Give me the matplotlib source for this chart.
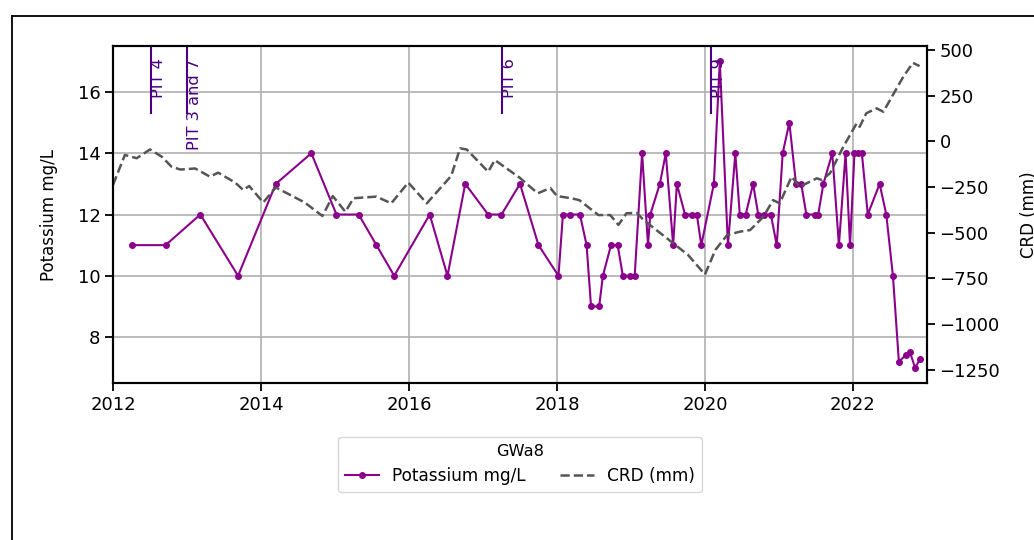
import matplotlib
matplotlib.use("Agg")
import matplotlib.pyplot as plt
from matplotlib.lines import Line2D

# Potassium (mg/L) sample dates (decimal year) and values
k_dates = [2012.25, 2012.71, 2013.18, 2013.69, 2014.20, 2014.68, 2015.02, 2015.32,
           2015.56, 2015.80, 2016.28, 2016.52, 2016.76, 2017.07, 2017.25, 2017.50,
           2017.75, 2018.02, 2018.08, 2018.17, 2018.31, 2018.40, 2018.46, 2018.57,
           2018.62, 2018.73, 2018.82, 2018.89, 2018.98, 2019.05, 2019.15, 2019.23,
           2019.26, 2019.39, 2019.47, 2019.57, 2019.62, 2019.73, 2019.82, 2019.89,
           2019.95, 2020.12, 2020.20, 2020.31, 2020.41, 2020.47, 2020.55, 2020.65,
           2020.72, 2020.80, 2020.89, 2020.97, 2021.05, 2021.14, 2021.23, 2021.30,
           2021.37, 2021.48, 2021.53, 2021.60, 2021.72, 2021.81, 2021.90, 2021.96,
           2022.02, 2022.07, 2022.12, 2022.20, 2022.36, 2022.45, 2022.54, 2022.62,
           2022.71, 2022.77, 2022.84, 2022.91]
k_values = [11, 11, 12, 10, 13, 14, 12, 12,
            11, 10, 12, 10, 13, 12, 12, 13,
            11, 10, 12, 12, 12, 11, 9, 9,
            10, 11, 11, 10, 10, 10, 14, 11,
            12, 13, 14, 11, 13, 12, 12, 12,
            11, 13, 17, 11, 14, 12, 12, 13,
            12, 12, 12, 11, 14, 15, 13, 13,
            12, 12, 12, 13, 14, 11, 14, 11,
            14, 14, 14, 12, 13, 12, 10, 7.2,
            7.4, 7.5, 7.0, 7.3]

# Cumulative rainfall deviation (mm)
crd_dates = [2012.00, 2012.16, 2012.32, 2012.50, 2012.66, 2012.79, 2012.91, 2013.11,
             2013.31, 2013.42, 2013.65, 2013.76, 2013.84, 2014.03, 2014.20, 2014.59,
             2014.83, 2014.97, 2015.14, 2015.25, 2015.56, 2015.76, 2015.99, 2016.24,
             2016.57, 2016.69, 2016.78, 2017.07, 2017.16, 2017.49, 2017.74, 2017.91,
             2018.00, 2018.19, 2018.30, 2018.56, 2018.72, 2018.83, 2018.94, 2019.08,
             2019.17, 2019.57, 2019.77, 2020.00, 2020.14, 2020.30, 2020.47, 2020.61,
             2020.79, 2020.92, 2021.01, 2021.17, 2021.28, 2021.51, 2021.58, 2021.69,
             2021.87, 2022.05, 2022.09, 2022.18, 2022.32, 2022.41, 2022.68, 2022.81,
             2022.90]
crd_values = [-238, -74, -92, -44, -84, -138, -154, -148,
              -193, -171, -225, -266, -244, -334, -252, -334,
              -408, -299, -385, -311, -302, -339, -225, -339,
              -189, -38, -44, -166, -102, -197, -284, -255,
              -299, -311, -321, -403, -403, -457, -393, -392,
              -430, -557, -621, -728, -594, -512, -494, -485,
              -412, -321, -339, -193, -248, -202, -211, -174,
              -29, 99, 80, 154, 181, 162, 354, 430,
              412]

# Pit events
pit_dates = [2012.51, 2013.00, 2017.26, 2020.08]
pit_labels = ["PIT 4", "PIT 3 and 7", "PIT 6", "PIT 9"]

fig = plt.figure(figsize=(10.34, 5.40), dpi=100)
ax = fig.add_axes([0.1093, 0.2907, 0.7872, 0.6241])
ax2 = ax.twinx()

ax.grid(True, color="#b0b0b0", linewidth=1.2)
ax.set_axisbelow(True)

l1, = ax.plot(k_dates, k_values, color="#8b008b", marker="o", markersize=4,
              linewidth=1.5, label="Potassium mg/L", zorder=3)
l2, = ax2.plot(crd_dates, crd_values, color="#555555", linestyle="--",
               linewidth=1.8, label="CRD (mm)")

for d, lab in zip(pit_dates, pit_labels):
    ax.axvline(d, ymin=0.8, ymax=1.0, color="#4b0082", linewidth=1.5)
    ax.text(d, 17.1, lab, rotation=90, va="top", ha="left", color="#4b0082",
            fontsize=11.7)

ax.set_xlim(2012, 2023)
ax.set_ylim(6.5, 17.5)
ax.set_yticks([8, 10, 12, 14, 16])
ax.set_xticks([2012, 2014, 2016, 2018, 2020, 2022])
ax2.set_ylim(-1322, 522)
ax2.set_yticks([-1250, -1000, -750, -500, -250, 0, 250, 500])

ax.tick_params(labelsize=13, length=5.5, width=1.3)
ax2.tick_params(labelsize=13, length=5.5, width=1.3)
ax.set_ylabel("Potassium mg/L", fontsize=12)
ax2.set_ylabel("CRD (mm)", fontsize=12)
ax.yaxis.set_label_coords(-0.068, 0.5)
ax2.yaxis.set_label_coords(1.114, 0.5)

for a in (ax, ax2):
    for s in a.spines.values():
        s.set_linewidth(1.5)

ax.legend(handles=[l1, l2], title="GWa8", ncol=2, loc="upper center",
          bbox_to_anchor=(0.5, -0.135), fontsize=12.2, title_fontsize=11.7)

# outer frame lines
fig.add_artist(Line2D([12/1034, 1.0], [1 - 16/540, 1 - 16/540], color="black",
                      linewidth=1.3, transform=fig.transFigure))
fig.add_artist(Line2D([12/1034, 12/1034], [0, 1 - 16/540], color="black",
                      linewidth=1.3, transform=fig.transFigure))

fig.savefig("out.png", dpi=100)
